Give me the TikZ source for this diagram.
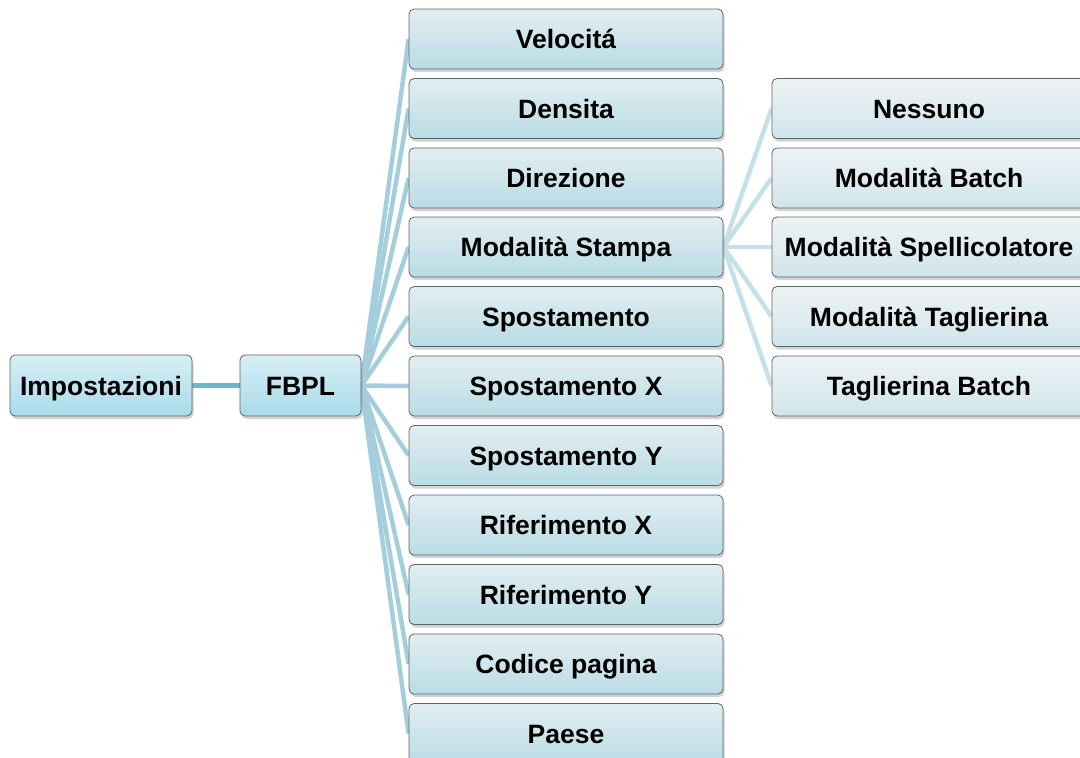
\documentclass[tikz,border=0pt]{standalone}
\usepackage{fontspec}
\setmainfont{Liberation Sans}
\usetikzlibrary{shadows,backgrounds}
\definecolor{boxline}{HTML}{5E6466}
\definecolor{rootTop}{HTML}{D8EEF4}
\definecolor{rootBot}{HTML}{A8DBEA}
\definecolor{midTop}{HTML}{E2EEF1}
\definecolor{midBot}{HTML}{B9DCE5}
\definecolor{rightTop}{HTML}{EEF3F5}
\definecolor{rightBot}{HTML}{D0E5EB}
\definecolor{rootLink}{HTML}{6FB5CD}
\definecolor{midLink}{HTML}{A5CEDD}
\definecolor{rightLink}{HTML}{C5E0E8}
\tikzset{
  box/.style={draw=boxline, line width=0.8pt, rounded corners=5pt, inner sep=0pt,
    minimum height=60pt, text height=19pt, text depth=0pt, align=center,
    font=\fontsize{26.5}{30}\selectfont\bfseries,
    drop shadow={opacity=0.35, shadow xshift=1.5pt, shadow yshift=-3pt}},
  rootbox/.style={box, top color=rootTop, bottom color=rootBot, minimum height=61pt},
  midbox/.style={box, top color=midTop, bottom color=midBot, minimum width=314pt},
  rightbox/.style={box, top color=rightTop, bottom color=rightBot, minimum width=314pt},
  rootlink/.style={draw=rootLink, line width=5pt},
  midlink/.style={draw=midLink, line width=4.5pt},
  rightlink/.style={draw=rightLink, line width=4.5pt},
}
\begin{document}
\begin{tikzpicture}[x=1pt,y=-1pt]
\useasboundingbox (0,0) rectangle (1080,758);
\clip (0,0) rectangle (1080,758);
\node[rootbox, minimum width=182pt] (imp) at (101,385.5) {Impostazioni};
\node[rootbox, minimum width=121pt] (fbpl) at (300.5,385.5) {FBPL};
\node[midbox] (m1) at (566,39) {Velocitá};
\node[midbox] (m2) at (566,108.5) {Densita};
\node[midbox] (m3) at (566,178) {Direzione};
\node[midbox] (m4) at (566,247) {Modalità Stampa};
\node[midbox] (m5) at (566,316.5) {Spostamento};
\node[midbox] (m6) at (566,386) {Spostamento X};
\node[midbox] (m7) at (566,455.5) {Spostamento Y};
\node[midbox] (m8) at (566,525) {Riferimento X};
\node[midbox] (m9) at (566,594.5) {Riferimento Y};
\node[midbox] (m10) at (566,664) {Codice pagina};
\node[midbox] (m11) at (566,733.5) {Paese};
\node[rightbox] (r1) at (929,108.5) {Nessuno};
\node[rightbox] (r2) at (929,178) {Modalità Batch};
\node[rightbox] (r3) at (929,247) {Modalità Spellicolatore};
\node[rightbox] (r4) at (929,316.5) {Modalità Taglierina};
\node[rightbox] (r5) at (929,386) {Taglierina Batch};
\begin{pgfonlayer}{background}
\draw[rootlink] (imp.east) -- (fbpl.west);
\foreach \m in {m1,m2,m3,m4,m5,m6,m7,m8,m9,m10,m11}
  \draw[midlink] (fbpl.east) -- (\m.west);
\foreach \r in {r1,r2,r3,r4,r5}
  \draw[rightlink] (m4.east) -- (\r.west);
\end{pgfonlayer}
\end{tikzpicture}
\end{document}
